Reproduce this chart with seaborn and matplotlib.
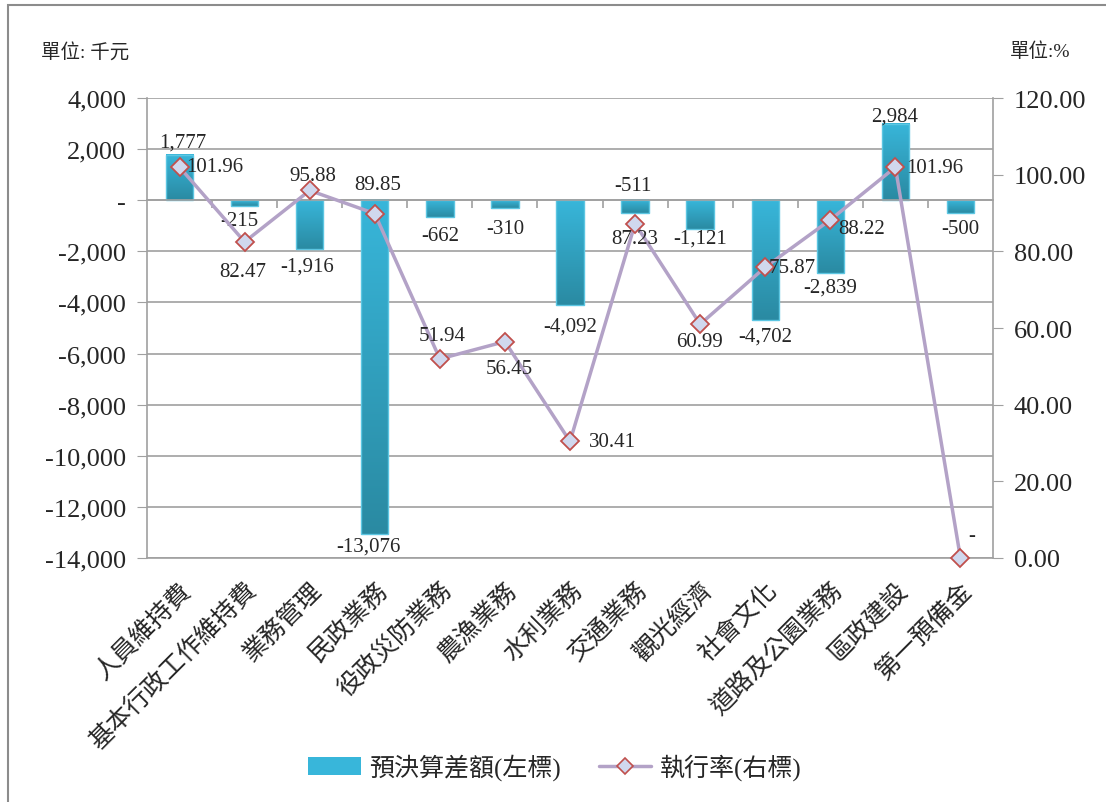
import numpy as np
import pandas as pd
import matplotlib
matplotlib.use('Agg')
import matplotlib.pyplot as plt
import seaborn as sns
from matplotlib.colors import LinearSegmentedColormap
from matplotlib.patches import Patch, Rectangle
from matplotlib.lines import Line2D
from matplotlib.ticker import FuncFormatter, FixedLocator

categories = ['人員維持費', '基本行政工作維持費', '業務管理', '民政業務', '役政災防業務', '農漁業務',
              '水利業務', '交通業務', '觀光經濟', '社會文化', '道路及公園業務', '區政建設', '第一預備金']
diff = [1777, -215, -1916, -13076, -662, -310, -4092, -511, -1121, -4702, -2839, 2984, -500]
rate = [101.96, 82.47, 95.88, 89.85, 51.94, 56.45, 30.41, 87.23, 60.99, 75.87, 88.22, 101.96, 0.0]
left_ticks = [4000, 2000, 0, -2000, -4000, -6000, -8000, -10000, -12000, -14000]
right_ticks = [0, 20, 40, 60, 80, 100, 120]

# label offsets in pixels (style only)
bar_lab_off = [(3, 13), (-5, -15), (-3, -17), (-6, -12), (0, -18), (0, -20), (0, -21),
               (-2, 28), (0, -9), (0, -16), (0, -14), (-1, 8), (0, -16)]
rate_lab_off = [(35, 1), (-2, -30), (3, 15), (3, 29), (2, 23), (4, -27), (42, 0),
                (0, -15), (-1, -17), (27, 0), (31, -9), (39, 0), (11, 22)]

sns.set_style('white')
plt.rcParams['font.family'] = ['Liberation Serif', 'Noto Sans CJK TC']
plt.rcParams['axes.unicode_minus'] = False

light, dark = '#38B6DA', '#2A8AA2'
line_c = '#B3A2C7'
grid_c = '#A0A0A0'

df = pd.DataFrame({'cat': categories, 'diff': diff, 'rate': rate})
n = len(df)

fig, ax = plt.subplots(figsize=(11.06, 8.03), dpi=100)
fig.subplots_adjust(left=147/1106, right=993/1106, top=1-99/803, bottom=1-559/803)

sns.barplot(data=df, x='cat', y='diff', color=light, width=0.42, ax=ax, zorder=2)
ymin, ymax = -14000, 4000

# gradient fill on bars
cmap = LinearSegmentedColormap.from_list('bar', [dark, light])
grad = np.linspace(1, 0, 256).reshape(-1, 1)
for p in list(ax.patches):
    x0, w = p.get_x(), p.get_width()
    y0, y1 = sorted([p.get_y(), p.get_y() + p.get_height()])
    ax.imshow(grad, extent=[x0, x0 + w, y0, y1], cmap=cmap, aspect='auto', zorder=2.1,
              interpolation='bilinear')
    p.set_facecolor('none')
    p.set_edgecolor('#5CC6E2')
    p.set_linewidth(1.0)
    p.set_zorder(2.2)
ax.set_aspect('auto')
ax.set_xlim(-0.5, n - 0.5)
ax.set_ylim(ymin, ymax)

ax.yaxis.set_major_locator(FixedLocator(left_ticks))
ax.yaxis.set_major_formatter(FuncFormatter(lambda v, _: '-' if v == 0 else f'{v:,.0f}'))
ax.yaxis.grid(True, color=grid_c, lw=1.2)
ax.set_axisbelow(True)
ax.tick_params(axis='y', direction='out', length=7, color=grid_c, labelsize=19, pad=8, left=True)
ax.set_xlabel('')
ax.set_ylabel('')

# x axis line at zero with tick marks between categories
ax.spines['bottom'].set_position(('data', 0))
ax.spines['bottom'].set_color(grid_c)
ax.spines['bottom'].set_linewidth(1.2)
ax.spines['top'].set_visible(False)
ax.spines['right'].set_visible(False)
ax.spines['left'].set_color(grid_c)
ax.spines['left'].set_linewidth(1.2)
ax.set_xticks(np.arange(1, n) - 0.5, minor=True)
ax.tick_params(axis='x', which='minor', bottom=True, direction='out', length=6, color=grid_c, width=1.2)
ax.tick_params(axis='x', which='major', length=0, labelbottom=False)

sec = ax.secondary_xaxis('bottom')
sec.set_xticks(range(n), labels=categories)
sec.tick_params(length=0, pad=14, labelsize=18)
for lab in sec.get_xticklabels():
    lab.set_rotation(45)
    lab.set_ha('right')
    lab.set_rotation_mode('anchor')
sec.spines['bottom'].set_color(grid_c)
sec.spines['bottom'].set_linewidth(1.2)

# bar labels
for i, v in enumerate(diff):
    ax.annotate(f'{v:,.0f}', xy=(i, v), xytext=bar_lab_off[i], textcoords='offset pixels',
                ha='center', va='center', fontsize=15, zorder=5)

# rate line on right axis
ax2 = ax.twinx()
sns.lineplot(x=np.arange(n), y=df['rate'], ax=ax2, color=line_c, lw=2.5, marker='D',
             markersize=9, markerfacecolor='#D0D8EE', markeredgecolor='#C0504D',
             markeredgewidth=1.3, legend=False)
for ln in ax2.lines:
    ln.set_clip_on(False)
ax2.set_ylim(0, 120)
ax2.set_xlim(-0.5, n - 0.5)
ax2.yaxis.set_major_locator(FixedLocator(right_ticks))
ax2.yaxis.set_major_formatter(FuncFormatter(lambda v, _: f'{v:.2f}'))
ax2.tick_params(axis='y', direction='out', length=7, color=grid_c, labelsize=19, pad=8, right=True)
ax2.set_ylabel('')
for s in ['top', 'left', 'bottom']:
    ax2.spines[s].set_visible(False)
ax2.spines['right'].set_color(grid_c)
ax2.spines['right'].set_linewidth(1.2)

for i, v in enumerate(rate):
    ax2.annotate(f'{v:.2f}' if v else '-', xy=(i, v), xytext=rate_lab_off[i],
                 textcoords='offset pixels', ha='center', va='center', fontsize=15, zorder=6,
                 annotation_clip=False)

# unit labels
fig.text(85/1106, 1-52/803, '單位: 千元', ha='center', va='center', fontsize=14)
fig.text(1040/1106, 1-52/803, '單位:%', ha='center', va='center', fontsize=14)

# legend
handles = [Patch(facecolor=light, edgecolor='none'),
           Line2D([0], [0], color=line_c, lw=2.5, marker='D', markersize=8,
                  markerfacecolor='#D0D8EE', markeredgecolor='#C0504D', markeredgewidth=1.2)]
fig.legend(handles, ['預決算差額(左標)', '執行率(右標)'], loc='center', ncol=2,
           bbox_to_anchor=(555/1106, 1-768/803), frameon=False, fontsize=18,
           handlelength=2.1, handleheight=0.75, handletextpad=0.35, columnspacing=1.5)

# outer frame
fig.patches.append(Rectangle((8/1106, -0.05), 1.2, 1.05 - 6/803, transform=fig.transFigure,
                             fill=False, edgecolor='#8C8C8C', lw=1.5))

fig.savefig('out.png', dpi=100)
